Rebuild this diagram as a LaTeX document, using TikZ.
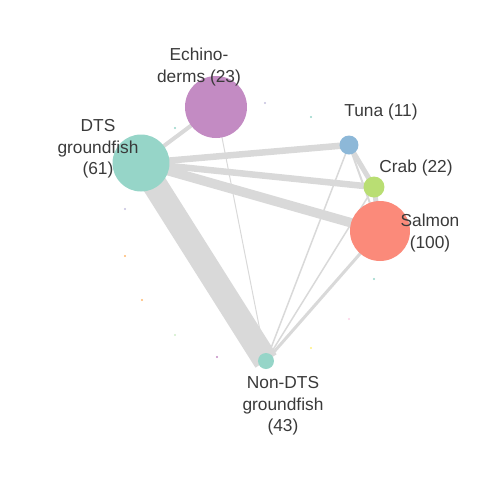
\documentclass[tikz,border=0pt]{standalone}
\usepackage{fontspec}
\setmainfont{Liberation Sans}
\usetikzlibrary{backgrounds}
\definecolor{dtsgreen}{HTML}{96D5C8}
\definecolor{echpurple}{HTML}{C38BC3}
\definecolor{tunablue}{HTML}{8DB8D8}
\definecolor{crabgreen}{HTML}{B9DE73}
\definecolor{salmonred}{HTML}{FB8A7A}
\definecolor{dotlilac}{HTML}{C4C0DE}
\definecolor{dotorange}{HTML}{FDB86E}
\definecolor{dotmint}{HTML}{CFECC8}
\definecolor{dotyellow}{HTML}{FFF080}
\definecolor{dotpink}{HTML}{FCD0E6}
\definecolor{edgegray}{HTML}{D9D9D9}
\definecolor{labtext}{HTML}{3A3A3A}
\tikzset{
  bub/.style 2 args={circle,fill=#1,draw=none,inner sep=0pt,minimum size=#2*0.75pt},
  speck/.style={circle,fill=#1,inner sep=0pt,minimum size=2.2*0.75pt},
  flow/.style={draw=edgegray,line width=#1*0.75pt},
  lab/.style={align=center,text=labtext,inner sep=0pt,font=\fontsize{13}{16}\selectfont}
}

\begin{document}
\begin{tikzpicture}[x=0.75pt,y=-0.75pt,line cap=round,line join=round]
\useasboundingbox (0,0) rectangle (480,480);

% catch groups
\node[bub={dtsgreen}{57}] (dts) at (141,163) {};
\node[bub={echpurple}{62}] (echino) at (216,107) {};
\node[bub={tunablue}{19}] (tuna) at (349,145) {};
\node[bub={crabgreen}{21}] (crab) at (374,187) {};
\node[bub={salmonred}{60}] (salmon) at (380,231) {};
\node[bub={dtsgreen}{16}] (nondts) at (266,361) {};

% links
\begin{pgfonlayer}{background}
\draw[flow=25] (dts.center) -- (nondts.center);
\draw[flow=4] (dts.center) -- (echino.center);
\draw[flow=6.5] (dts.center) -- (tuna.center);
\draw[flow=6.5] (dts.center) -- (crab.center);
\draw[flow=9.5] (dts.center) -- (salmon.center);
\draw[flow=1] (echino.center) -- (nondts.center);
\draw[flow=5] (tuna.center) -- (crab.center);
\draw[flow=2] (tuna.center) -- (salmon.center);
\draw[flow=1.5] (tuna.center) -- (nondts.center);
\draw[flow=5] (crab.center) -- (salmon.center);
\draw[flow=1.5] (crab.center) -- (nondts.center);
\draw[flow=3] (salmon.center) -- (nondts.center);
\end{pgfonlayer}

% small groups
\foreach \x/\y/\c [count=\i] in {265/103/dotlilac,311/117/dtsgreen,175/128/dtsgreen,125/209/dotlilac,125/256/dotorange,142/300/dotorange,175/335/dotmint,217/357/echpurple,311/348/dotyellow,349/319/dotpink,374/279/dtsgreen}
  \node[speck=\c] (s\i) at (\x,\y) {};

\node[lab] (ldts) at (98,149) {DTS\\groundfish\\(61)};
\node[lab] (lechino) at (199,67) {Echino-\\derms (23)};
\node[lab] (ltuna) at (381,112) {Tuna (11)};
\node[lab] (lcrab) at (416,168) {Crab (22)};
\node[lab] (lsalmon) at (430,233) {Salmon\\(100)};
\node[lab] (lnondts) at (283,406) {Non-DTS\\groundfish\\(43)};
\end{tikzpicture}
\end{document}
